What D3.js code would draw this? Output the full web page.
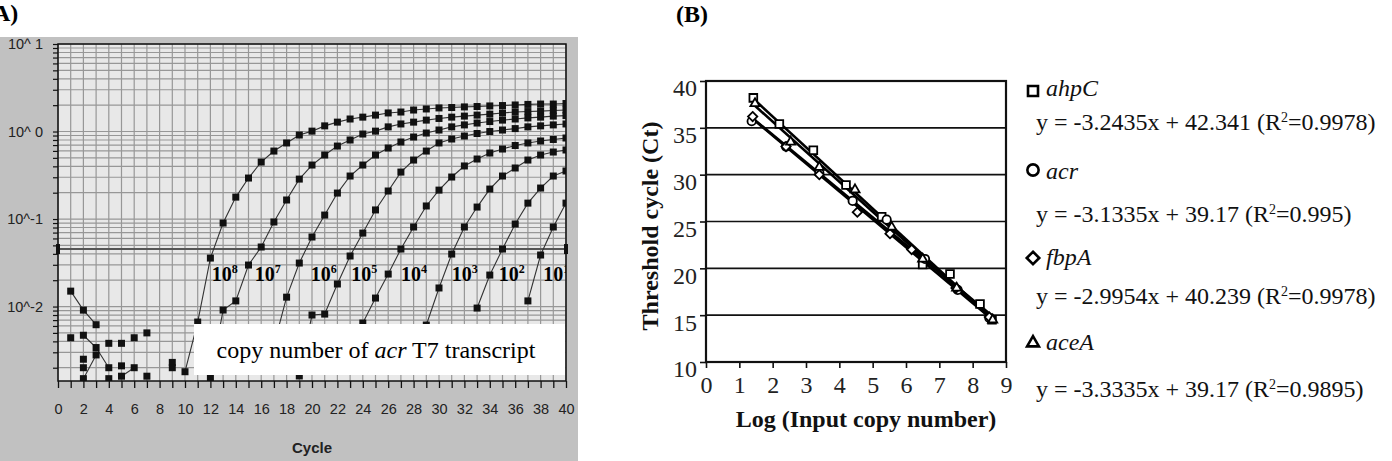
<!DOCTYPE html>
<html>
<head>
<meta charset="utf-8">
<script src="https://cdn.jsdelivr.net/npm/d3@7"></script>
<style>
  body { margin: 0; background: #fff; }
  svg text { font-family: "Liberation Serif", "Times New Roman", serif; }
  svg .sans { font-family: "Liberation Sans", Arial, sans-serif; }
</style>
</head>
<body>
<svg id="fig" width="1392" height="461"></svg>
<script>
// ---------- panel A : amplification plots (fluorescence per cycle) ----------
var ampExponents = ["8", "7", "6", "5", "4", "3", "2", "1"];
var ampStartCycle = [10, 12, 17, 19, 23, 28, 33, 37];
var amp1e8 = [0.0018, 0.00665, 0.0358, 0.0900, 0.178, 0.294, 0.448, 0.598, 0.740, 0.912, 1.01, 1.16, 1.28, 1.39, 1.46, 1.54,
              1.63, 1.67, 1.76, 1.81, 1.86, 1.88, 1.91, 1.93, 1.96, 1.98, 2.01, 2.04, 2.06, 2.06, 2.09];
var amp1e7 = [0.00152, 0.00912, 0.0116, 0.0298, 0.0479, 0.0925, 0.165, 0.286, 0.414, 0.539, 0.682, 0.80, 0.936, 1.01, 1.13,
              1.22, 1.28, 1.35, 1.41, 1.46, 1.50, 1.54, 1.58, 1.63, 1.67, 1.69, 1.71, 1.74, 1.76];
var amp1e6 = [0.00363, 0.0128, 0.0314, 0.0623, 0.111, 0.198, 0.310, 0.414, 0.539, 0.648, 0.759, 0.865, 0.961, 1.04, 1.13,
              1.19, 1.25, 1.30, 1.35, 1.39, 1.43, 1.46, 1.50, 1.52];
var amp1e5 = [0.00161, 0.0080, 0.0082, 0.0181, 0.0378, 0.0691, 0.127, 0.209, 0.344, 0.472, 0.598, 0.740, 0.821, 0.888, 0.949,
              1.00, 1.04, 1.08, 1.13, 1.16, 1.19, 1.22];
var amp1e4 = [0.0032, 0.00648, 0.0125, 0.0235, 0.0454, 0.0811, 0.141, 0.214, 0.302, 0.404, 0.485, 0.568, 0.631, 0.692, 0.740,
              0.779, 0.811, 0.843];
var amp1e3 = [0.0028, 0.00615, 0.0163, 0.0398, 0.0811, 0.137, 0.220, 0.310, 0.383, 0.472, 0.539, 0.583, 0.615];
var amp1e2 = [0.00961, 0.0229, 0.0454, 0.0877, 0.152, 0.226, 0.310, 0.354];
var amp1e1 = [0.0116, 0.0388, 0.0811, 0.152];
var ampCurves = [amp1e8, amp1e7, amp1e6, amp1e5, amp1e4, amp1e3, amp1e2, amp1e1];

// background noise of the first cycles
var noiseLineCycles = [[1, 2, 3], [2, 3, 4], [2, 3], [5, 6]];
var noiseLineValues = [[0.0150, 0.0091, 0.0062], [0.0047, 0.0034, 0.0020], [0.0015, 0.0028], [0.0016, 0.0020]];
var noiseDotCycles = [1, 2, 2, 4, 4, 5, 5, 6, 7, 7, 9, 9];
var noiseDotValues = [0.0044, 0.0025, 0.0020, 0.0038, 0.0015, 0.0038, 0.0021, 0.0044, 0.0050, 0.0016, 0.0023, 0.0020];

var thresholdValue = 0.0454;
var yMajorValues = [10, 1, 0.1, 0.01];
var yMajorLabels = ["10^ 1", "10^ 0", "10^-1", "10^-2"];

// ---------- panel B : standard curves ----------
var genes = ["ahpC", "acr", "fbpA", "aceA"];
var slopes = ["-3.2435", "-3.1335", "-2.9954", "-3.3335"];
var intercepts = ["42.341", "39.17", "40.239", "39.17"];
var rSquared = ["0.9978", "0.995", "0.9978", "0.9895"];
var ahpCx = [1.42, 2.20, 3.22, 4.20, 5.27, 6.50, 7.32, 8.22, 8.58];
var ahpCy = [38.2, 35.4, 32.6, 28.9, 25.5, 20.4, 19.4, 16.2, 14.5];
var acrX = [1.37, 2.40, 3.40, 4.40, 5.42, 6.57, 7.55, 8.50];
var acrY = [35.7, 33.0, 30.2, 27.2, 25.2, 21.0, 17.7, 14.7];
var fbpAx = [1.40, 2.40, 3.40, 4.54, 5.52, 6.17, 7.50, 8.50];
var fbpAy = [36.2, 33.0, 30.0, 26.0, 23.7, 22.0, 17.9, 14.8];
var aceAx = [1.47, 2.54, 3.40, 4.47, 5.57, 6.50, 7.52, 8.60];
var aceAy = [37.6, 33.5, 30.8, 28.4, 24.4, 21.0, 17.9, 14.5];
var seriesX = [ahpCx, acrX, fbpAx, aceAx];
var seriesY = [ahpCy, acrY, fbpAy, aceAy];

var svg = d3.select("#fig");

// ================= panel A =================
var A = {left: 58, right: 566, top: 44, bottom: 381};
var xA = d3.scaleLinear().domain([0, 40]).range([A.left, A.right]);
var yA = d3.scaleLog().domain([0.00141, 10]).range([A.bottom, A.top]);

svg.append("text").attr("x", -15).attr("y", 21)
    .style("font-weight", "bold").style("font-size", "24px").text("(A)");

svg.append("rect").attr("x", 0).attr("y", 37).attr("width", 578).attr("height", 424).attr("fill", "#c1c1c1");
svg.append("rect").attr("x", A.left).attr("y", A.top)
    .attr("width", A.right - A.left).attr("height", A.bottom - A.top).attr("fill", "#e8e8e8");

svg.append("clipPath").attr("id", "clipA").append("rect")
    .attr("x", A.left).attr("y", A.top).attr("width", A.right - A.left).attr("height", A.bottom - A.top);

// log grid values 1..9 per decade
var gridVals = [];
for (var e = -3; e <= 0; e++) {
    for (var k = 1; k <= 9; k++) {
        var v = k * Math.pow(10, e);
        if (v >= yA.domain()[0]) gridVals.push(v);
    }
}
gridVals.push(10);

var grid = svg.append("g");
grid.selectAll(".vg").data(d3.range(0, 41)).enter().append("line")
    .attr("x1", function(d) { return xA(d); }).attr("x2", function(d) { return xA(d); })
    .attr("y1", A.top).attr("y2", A.bottom)
    .attr("stroke", "#979797").attr("stroke-width", 1.2);
grid.selectAll(".hg").data(gridVals).enter().append("line")
    .attr("x1", A.left).attr("x2", A.right)
    .attr("y1", function(d) { return yA(d); }).attr("y2", function(d) { return yA(d); })
    .attr("stroke", "#979797").attr("stroke-width", 1.2);

// threshold
svg.append("line").attr("x1", A.left).attr("x2", A.right)
    .attr("y1", yA(thresholdValue)).attr("y2", yA(thresholdValue))
    .attr("stroke", "#555").attr("stroke-width", 2);
[0, 40].forEach(function(c) {
    svg.append("rect").attr("x", xA(c) - 2).attr("y", yA(thresholdValue) - 5)
        .attr("width", 4).attr("height", 10).attr("fill", "#111");
});

var plotA = svg.append("g").attr("clip-path", "url(#clipA)");
var lineA = d3.line().x(function(d) { return xA(d.c); }).y(function(d) { return yA(d.v); });

function drawSeries(pts) {
    plotA.append("path").datum(pts).attr("d", lineA)
        .attr("fill", "none").attr("stroke", "#333").attr("stroke-width", 1.1);
    plotA.selectAll(null).data(pts).enter().append("rect")
        .attr("x", function(d) { return xA(d.c) - 3.5; })
        .attr("y", function(d) { return yA(d.v) - 3.5; })
        .attr("width", 7).attr("height", 7).attr("fill", "#111");
}

noiseLineCycles.forEach(function(cs, i) {
    drawSeries(cs.map(function(c, j) { return {c: c, v: noiseLineValues[i][j]}; }));
});
plotA.selectAll(null).data(noiseDotCycles).enter().append("rect")
    .attr("x", function(c) { return xA(c) - 3.5; })
    .attr("y", function(c, i) { return yA(noiseDotValues[i]) - 3.5; })
    .attr("width", 7).attr("height", 7).attr("fill", "#111");

ampCurves.forEach(function(arr, i) {
    drawSeries(arr.map(function(v, j) { return {c: ampStartCycle[i] + j, v: v}; }));
});

// copy-number labels next to each curve
var labelCycles = [12.1, 15.5, 19.9, 23.1, 27.0, 31.0, 34.7, 38.2];
var labelValue = 0.0196;
var lab = plotA.selectAll(".lab").data(ampExponents).enter().append("text")
    .attr("x", function(d, i) { return xA(labelCycles[i]); })
    .attr("y", yA(labelValue))
    .style("font-weight", "bold").style("font-size", "20px");
lab.append("tspan").text("10");
lab.append("tspan").attr("dy", -8).style("font-size", "12px").text(function(d) { return d; });

// annotation box
svg.append("rect").attr("x", 194).attr("y", 324).attr("width", 371).attr("height", 51).attr("fill", "#fff");
var note = svg.append("text").attr("x", 376).attr("y", 358).attr("text-anchor", "middle").style("font-size", "24px");
note.append("tspan").text("copy number of ");
note.append("tspan").style("font-style", "italic").text("acr");
note.append("tspan").text(" T7 transcript");

// plot frame
svg.append("rect").attr("x", A.left).attr("y", A.top)
    .attr("width", A.right - A.left).attr("height", A.bottom - A.top)
    .attr("fill", "none").attr("stroke", "#111").attr("stroke-width", 1.5);

// axes
var xAxisA = svg.append("g").attr("transform", "translate(0," + A.bottom + ")")
    .call(d3.axisBottom(xA).tickValues(d3.range(0, 41)).tickSize(7).tickPadding(16)
        .tickFormat(function(d) { return d % 2 ? "" : d; }));
xAxisA.select(".domain").remove();
xAxisA.selectAll("line").attr("stroke", "#111").attr("stroke-width", 1.3);
xAxisA.selectAll("text").attr("class", "sans").style("font-size", "14.5px").attr("fill", "#222");

var yAxisA = svg.append("g").attr("transform", "translate(" + A.left + ",0)")
    .call(d3.axisLeft(yA).tickValues(gridVals).tickSize(5).tickFormat(""));
yAxisA.select(".domain").remove();
yAxisA.selectAll("line").attr("stroke", "#111").attr("stroke-width", 1.2);

svg.selectAll(".ylabA").data(yMajorValues).enter().append("text")
    .attr("class", "sans").attr("x", 43).attr("y", function(d) { return yA(d) + 5; })
    .attr("text-anchor", "end").style("font-size", "14.5px").attr("fill", "#222")
    .text(function(d, i) { return yMajorLabels[i]; });

svg.append("text").attr("class", "sans").attr("x", 312).attr("y", 453)
    .attr("text-anchor", "middle").style("font-size", "15px").style("font-weight", "bold")
    .attr("fill", "#222").text("Cycle");

// ================= panel B =================
var B = {left: 706, right: 1006, top: 81, bottom: 362};
var xB = d3.scaleLinear().domain([0, 9]).range([B.left, B.right]);
var yB = d3.scaleLinear().domain([10, 40]).range([B.bottom, B.top]);

svg.append("text").attr("x", 676).attr("y", 22)
    .style("font-weight", "bold").style("font-size", "24px").text("(B)");

svg.selectAll(".gB").data([15, 20, 25, 30, 35]).enter().append("line")
    .attr("x1", B.left).attr("x2", B.right)
    .attr("y1", function(d) { return yB(d); }).attr("y2", function(d) { return yB(d); })
    .attr("stroke", "#111").attr("stroke-width", 1.6);

var yAxisB = svg.append("g").attr("transform", "translate(" + B.left + ",0)")
    .call(d3.axisLeft(yB).tickValues(d3.range(10, 41, 5)).tickSize(6).tickPadding(3));
yAxisB.select(".domain").remove();
yAxisB.selectAll("line").attr("stroke", "#111").attr("stroke-width", 1.6);
yAxisB.selectAll("text").attr("dy", "0.62em").style("font-size", "24px").attr("fill", "#222")
    .style("font-family", "'Liberation Serif', serif");

var xAxisB = svg.append("g").attr("transform", "translate(0," + B.bottom + ")")
    .call(d3.axisBottom(xB).tickValues(d3.range(0, 10)).tickSize(6).tickPadding(8));
xAxisB.select(".domain").remove();
xAxisB.selectAll("line").attr("stroke", "#111").attr("stroke-width", 1.6);
xAxisB.selectAll("text").style("font-size", "24px").attr("fill", "#222")
    .style("font-family", "'Liberation Serif', serif");

// least-squares trend line for each gene
function fit(xs, ys) {
    var mx = d3.mean(xs), my = d3.mean(ys);
    var sxy = d3.sum(xs, function(x, i) { return (x - mx) * (ys[i] - my); });
    var sxx = d3.sum(xs, function(x) { return (x - mx) * (x - mx); });
    var b = sxy / sxx;
    return {b: b, a: my - b * mx};
}
seriesX.forEach(function(xs, i) {
    var f = fit(xs, seriesY[i]);
    var x0 = d3.min(xs), x1 = d3.max(xs);
    svg.append("line")
        .attr("x1", xB(x0)).attr("y1", yB(f.a + f.b * x0))
        .attr("x2", xB(x1)).attr("y2", yB(f.a + f.b * x1))
        .attr("stroke", "#000").attr("stroke-width", 2.6);
});

var shapes = [d3.symbolSquare, d3.symbolCircle, d3.symbolDiamond2 || d3.symbolDiamond, d3.symbolTriangle2 || d3.symbolTriangle];
var shapeSize = [60, 55, 55, 60];
seriesX.forEach(function(xs, i) {
    svg.selectAll(null).data(xs).enter().append("path")
        .attr("transform", function(x, j) { return "translate(" + xB(x) + "," + yB(seriesY[i][j]) + ")"; })
        .attr("d", d3.symbol().type(shapes[i]).size(shapeSize[i]))
        .attr("fill", "#fff").attr("stroke", "#000").attr("stroke-width", 1.8);
});

svg.append("rect").attr("x", B.left).attr("y", B.top)
    .attr("width", B.right - B.left).attr("height", B.bottom - B.top)
    .attr("fill", "none").attr("stroke", "#111").attr("stroke-width", 2.2);

svg.append("text").attr("x", 866).attr("y", 427).attr("text-anchor", "middle")
    .style("font-weight", "bold").style("font-size", "24px").attr("fill", "#111")
    .text("Log (Input copy number)");
svg.append("text").attr("transform", "translate(658,226) rotate(-90)").attr("text-anchor", "middle")
    .style("font-weight", "bold").style("font-size", "24px").attr("fill", "#111")
    .text("Threshold cycle (Ct)");

// legend with fitted equations
var legMarkY = [91, 170, 258, 343];
var legNameY = [96, 179, 265, 350];
var legEqY = [130, 222, 304, 397];
genes.forEach(function(g, i) {
    svg.append("path").attr("transform", "translate(1033," + legMarkY[i] + ")")
        .attr("d", d3.symbol().type(shapes[i]).size(100))
        .attr("fill", "#fff").attr("stroke", "#000").attr("stroke-width", 2.6);
    svg.append("text").attr("x", 1046).attr("y", legNameY[i])
        .style("font-style", "italic").style("font-size", "24px").attr("fill", "#111").text(g);
    var eq = svg.append("text").attr("x", 1036).attr("y", legEqY[i]).style("font-size", "24px").attr("fill", "#111");
    eq.append("tspan").text("y = " + slopes[i] + "x + " + intercepts[i] + " (R");
    eq.append("tspan").attr("dy", -8).style("font-size", "14px").text("2");
    eq.append("tspan").attr("dy", 8).text("=" + rSquared[i] + ")");
});
</script>
</body>
</html>
